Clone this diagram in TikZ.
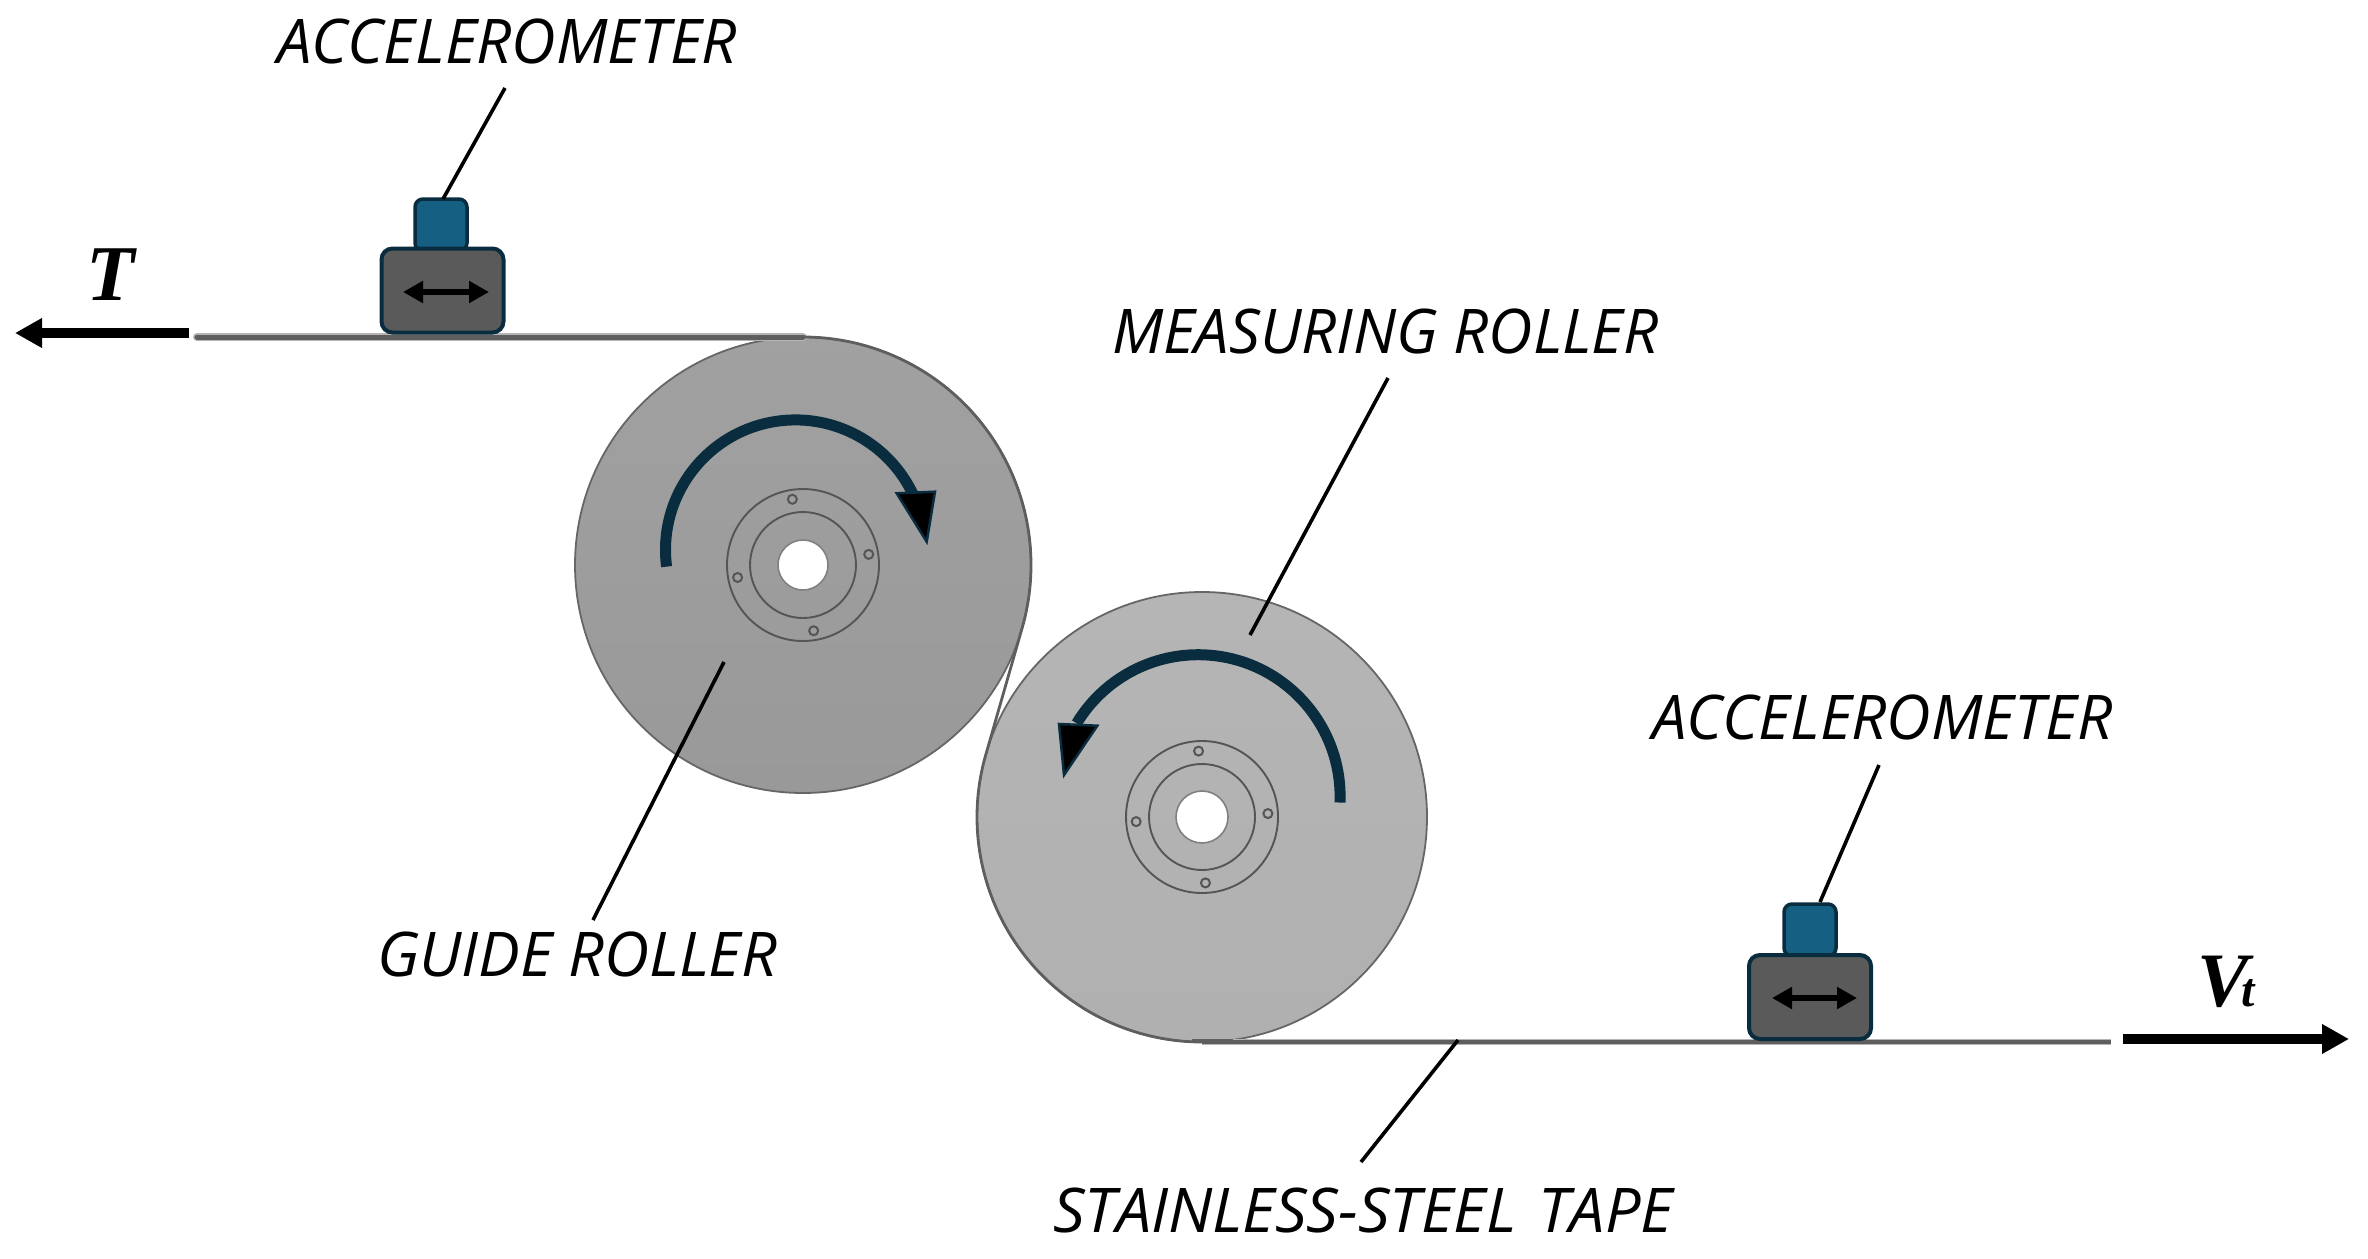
\documentclass[tikz,border=0pt]{standalone}
\usepackage{fontspec}
\setmainfont{Open Sans}
\newfontfamily\varfont{Liberation Serif}
\usetikzlibrary{arrows.meta,calc}
\definecolor{navy}{HTML}{0A2C3F}
\definecolor{headblue}{HTML}{156082}
\definecolor{basegray}{HTML}{5A5A5A}
\definecolor{tapedark}{HTML}{5E5E5E}
\definecolor{tapehalo}{HTML}{B5B5B5}
\definecolor{rimgray}{HTML}{666666}
\definecolor{hubgray}{HTML}{555555}
\newcommand{\capslabel}[2]{{\itshape\fontsize{61.6}{61.6}\selectfont\addfontfeature{FakeStretch=#1}#2}}
\tikzset{
  roller/.style={circle,inner sep=0pt,outer sep=0pt,draw=rimgray,line width=1.8pt,minimum size=#1},
  ring/.style={circle,inner sep=0pt,outer sep=0pt,draw=hubgray,line width=1.9pt,minimum size=#1},
  bore/.style={circle,inner sep=0pt,outer sep=0pt,draw=gray,line width=1.6pt,fill=white,minimum size=#1},
  bolthole/.style={circle,inner sep=0pt,outer sep=0pt,draw=hubgray,line width=2pt,minimum size=9pt},
  sensorbase/.style={rectangle,rounded corners=11pt,inner sep=0pt,outer sep=0pt,draw=navy,line width=4pt,fill=basegray,minimum width=122pt,minimum height=84pt},
  sensorhead/.style={rectangle,rounded corners=8pt,inner sep=0pt,outer sep=0pt,draw=navy,line width=3.5pt,fill=headblue,minimum width=52pt,minimum height=52pt},
  leader/.style={black,line width=3.6pt},
  spin/.style={navy,line width=11pt},
  spinhead/.style={draw=navy,line width=2.5pt,fill=black,line join=miter},
  force/.style={black,line width=10pt,-{Triangle[length=27pt,width=28pt]}},
  shake/.style={black,line width=5.5pt,{Triangle[length=20pt,width=21pt]}-{Triangle[length=20pt,width=21pt]}},
  lbl/.style={inner sep=0pt,outer sep=0pt,anchor=base west},
}
\begin{document}
\begin{tikzpicture}[x=1pt,y=-1pt]
\useasboundingbox (0,0) rectangle (2368,1258);

% rollers
\node[roller=456pt,top color=black!37,bottom color=black!40] (guide) at (803,565) {};
\node[roller=450pt,top color=black!29,bottom color=black!31] (meas) at (1202,817) {};

% hubs
\node[ring=152pt] (guideOuter) at (guide) {};
\node[ring=106pt] (guideInner) at (guide) {};
\node[bore=50pt] (guideBore) at (guide) {};
\node[ring=152pt] (measOuter) at (meas) {};
\node[ring=106pt] (measInner) at (meas) {};
\node[bore=52pt] (measBore) at (meas) {};
\foreach \a/\n in {-99.2/a,-9.2/b,80.8/c,169.2/d}
  \node[bolthole] (guideBolt\n) at ($(guide)+(\a:66.6)$) {};
\foreach \a/\n in {-93/a,-3/b,87/c,176/d}
  \node[bolthole] (measBolt\n) at ($(meas)+(\a:66)$) {};

% tape
\coordinate (tapeStart) at (197,337);
\coordinate (tapeEnd) at (2111,1042);
\coordinate (tapeArrive) at ($(meas)+(196:225)$);
\coordinate (tapeDarkA) at (1192,1041);
\coordinate (tapeDarkB) at (1233,1041);
\draw[tapehalo,line width=8pt,line cap=round] (tapeStart) -- (guide.north);
\draw[tapedark,line width=5pt,line cap=round] (tapeStart) -- (guide.north);
\draw[tapedark,line width=2.8pt] (guide.north) arc[start angle=-90,end angle=16,radius=228]
  -- (tapeArrive) arc[start angle=196,end angle=90,radius=225];
\draw[tapehalo,line width=6.5pt] (meas.south) -- (tapeEnd);
\draw[tapedark,line width=3.5pt] (meas.south) -- (tapeEnd);
\draw[tapedark,line width=4.5pt] (tapeDarkA) -- (tapeDarkB);

% rotation arrows
\coordinate (spinGuideC) at (795.5,549.9);
\coordinate (spinMeasC) at (1198.2,796.6);
\draw[spin] ($(spinGuideC)+(-187.4:130)$) arc[start angle=-187.4,end angle=-25,radius=130];
\draw[spinhead] (896.7,493.3) -- (935,491.7) -- (926.7,541.7) -- cycle;
\draw[spin] ($(spinMeasC)+(2.4:141.9)$) arc[start angle=2.4,end angle=-148.9,radius=141.9];
\draw[spinhead] (1059,724) -- (1097.3,725.7) -- (1064,775) -- cycle;

% sensors
\node[sensorhead] (headA) at (441,225) {};
\node[sensorbase] (baseA) at (442.5,290.5) {};
\node[sensorhead] (headB) at (1810,930) {};
\node[sensorbase] (baseB) at (1810,997) {};
\coordinate (shakeAL) at (403,292);
\coordinate (shakeAR) at (489,292);
\coordinate (shakeBL) at (1772,998);
\coordinate (shakeBR) at (1857,998);
\draw[shake] (shakeAL) -- (shakeAR);
\draw[shake] (shakeBL) -- (shakeBR);

% force arrows
\coordinate (forceTs) at (189,333);
\coordinate (forceTe) at (15,333);
\coordinate (forceVs) at (2123,1039);
\coordinate (forceVe) at (2349,1039);
\draw[force] (forceTs) -- (forceTe);
\draw[force] (forceVs) -- (forceVe);
\node[lbl] (symT) at (86,300) {\fontsize{79}{79}\selectfont\varfont\bfseries\itshape T};
\node[lbl] (symV) at (2197,1006) {\fontsize{77}{77}\selectfont\varfont\bfseries\itshape V\kern-7pt\fontsize{48}{48}\selectfont t};

% labels
\node[lbl] (accA) at (277,63) {\capslabel{0.998}{ACCELEROMETER}};
\node[lbl] (accB) at (1652,739) {\capslabel{0.998}{ACCELEROMETER}};
\node[lbl] (measL) at (1112,353) {\capslabel{0.994}{MEASURING ROLLER}};
\node[lbl] (guideL) at (377,976) {\capslabel{1.012}{GUIDE ROLLER}};
\node[lbl] (tapeL) at (1053,1232) {\capslabel{1.02}{STAINLESS-STEEL\hspace{6pt} TAPE}};

% leaders
\coordinate (ldAa) at (505,88);
\coordinate (ldAb) at (443,199);
\coordinate (ldBa) at (1879,765);
\coordinate (ldBb) at (1820,902);
\coordinate (ldMa) at (1388,378);
\coordinate (ldMb) at (1250,635);
\coordinate (ldGa) at (724,662);
\coordinate (ldGb) at (593,920);
\coordinate (ldTa) at (1458,1040);
\coordinate (ldTb) at (1361,1162);
\draw[leader] (ldAa) -- (ldAb);
\draw[leader] (ldBa) -- (ldBb);
\draw[leader] (ldMa) -- (ldMb);
\draw[leader] (ldGa) -- (ldGb);
\draw[leader] (ldTa) -- (ldTb);
\end{tikzpicture}
\end{document}
